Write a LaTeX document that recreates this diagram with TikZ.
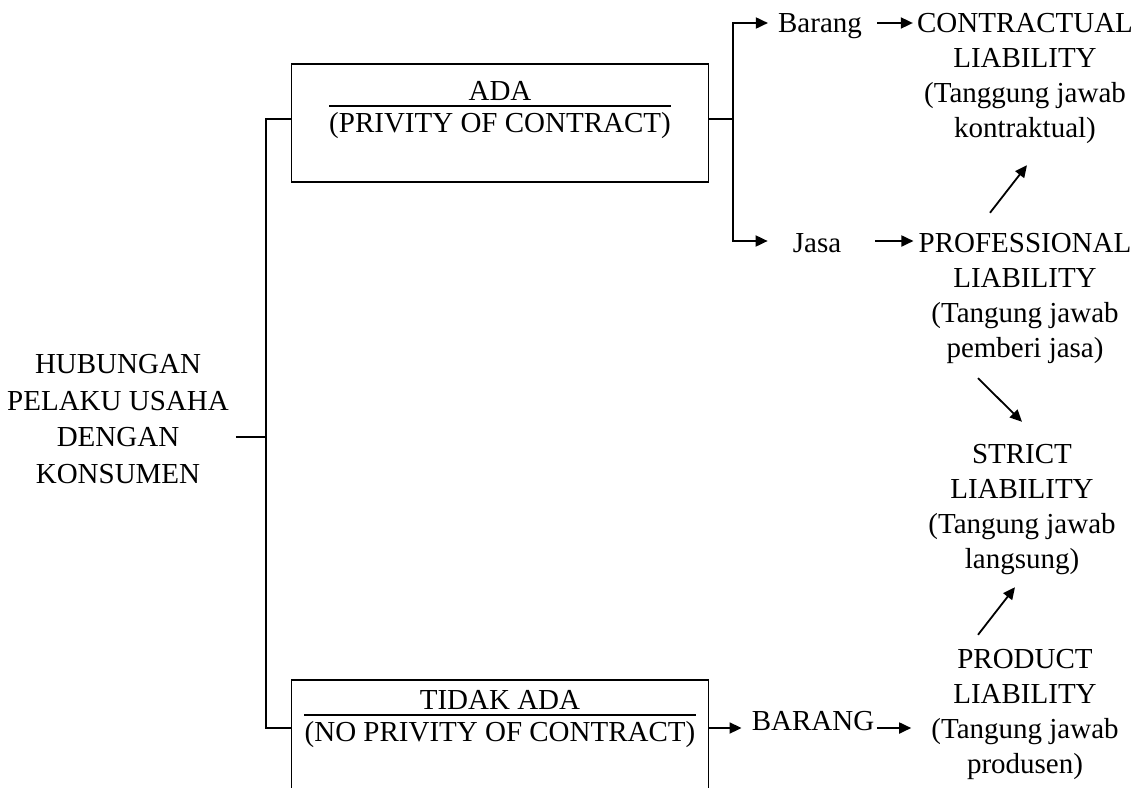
\documentclass[tikz,border=0pt]{standalone}
\usepackage{fontspec}
\setmainfont{Liberation Serif}
\usetikzlibrary{arrows.meta,calc}
\begin{document}
\begin{tikzpicture}[x=1pt,y=-1pt,
  txt/.style={inner sep=0pt, anchor=base, font=\fontsize{29}{35}\selectfont},
  hubtxt/.style={txt, font=\fontsize{29}{36.5}\selectfont},
  box/.style={draw, line width=1.5pt, minimum width=417pt, inner sep=0pt},
  ln/.style={line width=1.8pt},
  arr/.style={ln, -{Triangle[length=12pt,width=11pt]}},
  rule/.style={line width=1.2pt},
]
\clip (0,0) rectangle (1143,787);
\useasboundingbox (0,0) rectangle (1143,787);

% boxes
\node[box, minimum height=118pt] (adabox) at (500,123) {};
\node[box, minimum height=140pt] (noadabox) at (500,750) {};
\node[txt] (ada) at (500,100) {ADA};
\node[txt] (privity) at (500,132) {(PRIVITY OF CONTRACT)};
\node[txt] (tidak) at (500,709) {TIDAK ADA};
\node[txt] (noprivity) at (500,741) {(NO PRIVITY OF CONTRACT)};
\draw[rule] ([yshift=26pt]privity.base west) -- ([yshift=26pt]privity.base east);
\draw[rule] ([yshift=26pt]noprivity.base west) -- ([yshift=26pt]noprivity.base east);

% left text
\node[hubtxt] (hub) at (118,373.5) {\begin{tabular}[t]{@{}c@{}}HUBUNGAN\\PELAKU USAHA\\DENGAN\\KONSUMEN\end{tabular}};

% right column
\node[txt] (barang) at (820,32) {Barang};
\node[txt] (contr) at (1025,32) {\begin{tabular}[t]{@{}c@{}}CONTRACTUAL\\LIABILITY\\(Tanggung jawab\\kontraktual)\end{tabular}};
\node[txt] (jasa) at (817,252) {Jasa};
\node[txt] (prof) at (1025,252) {\begin{tabular}[t]{@{}c@{}}PROFESSIONAL\\LIABILITY\\(Tangung jawab\\pemberi jasa)\end{tabular}};
\node[txt] (strict) at (1022,463) {\begin{tabular}[t]{@{}c@{}}STRICT\\LIABILITY\\(Tangung jawab\\langsung)\end{tabular}};
\node[txt] (prod) at (1025,668) {\begin{tabular}[t]{@{}c@{}}PRODUCT\\LIABILITY\\(Tangung jawab\\produsen)\end{tabular}};
\node[txt] (barangB) at (813,730) {BARANG};

% junction points
\coordinate (vt) at (266,119);
\coordinate (vb) at (266,728);
\coordinate (hj) at (266,437);
\coordinate (rt) at (733,23);
\coordinate (rm) at (733,119);
\coordinate (rb) at (733,241);

% connectors
\draw[ln] (adabox.west |- vt) -- (vt) -- (vb) -- (noadabox.west |- vb);
\draw[ln] ([xshift=7pt]hub.east |- hj) -- (hj);
\draw[ln] (adabox.east |- rm) -- (rm);
\draw[arr, shorten >=10pt] (rm) -- (rt) -- (rt -| barang.west);
\draw[arr, shorten >=25pt] (rm) -- (rb) -- (rb -| jasa.west);
\draw[arr, shorten <=15pt, shorten >=4pt] (barang.east |- rt) -- (rt -| contr.west);
\draw[arr, shorten <=34pt, shorten >=5pt] (jasa.east |- rb) -- (rb -| prof.west);
\draw[arr, shorten >=10pt] (noadabox.east |- vb) -- (vb -| barangB.west);
\draw[arr, shorten <=3pt, shorten >=20pt] (barangB.east |- vb) -- (vb -| prod.west);

% diagonal arrows
\draw[arr] ($(prof.north)+(-35,-14.5)$) -- ($(contr.south)+(2,17.5)$);
\draw[arr] ($(prof.south)+(-47,10.5)$) -- ($(strict.north)+(0,-16.5)$);
\draw[arr] ($(prod.north)+(-47,-8.5)$) -- ($(strict.south)+(-7,8.5)$);
\end{tikzpicture}
\end{document}
